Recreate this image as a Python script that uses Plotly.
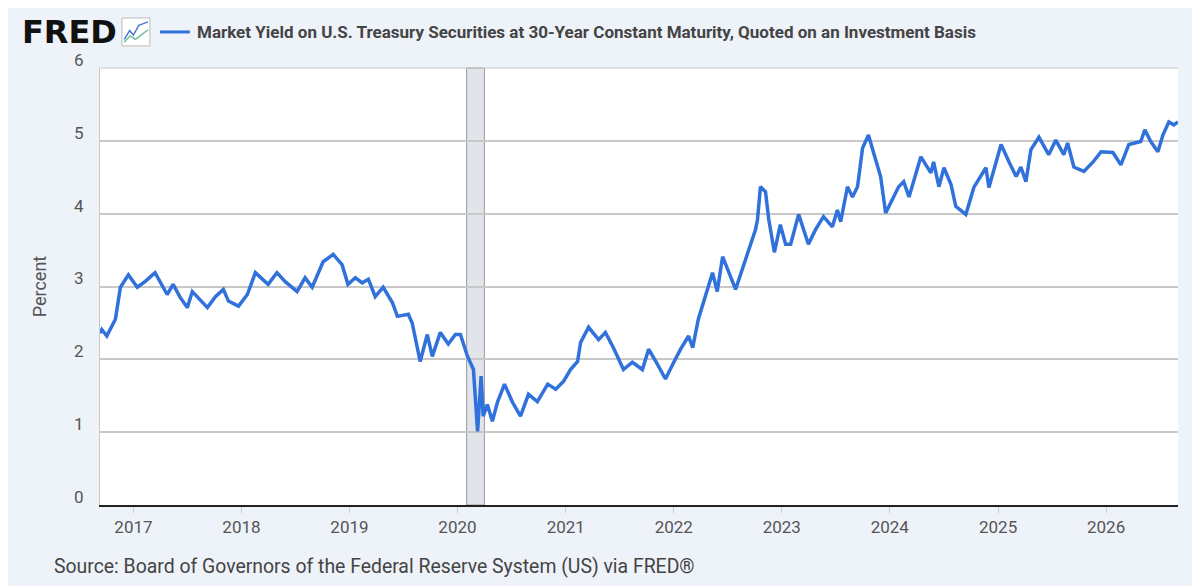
import plotly.graph_objects as go

dates = ["2016-09-10","2016-09-16","2016-10-03","2016-11-01","2016-11-18","2016-12-15","2017-01-14","2017-02-10","2017-03-15",
"2017-04-25","2017-05-15","2017-06-08","2017-07-02","2017-07-19","2017-09-08","2017-10-05","2017-11-01","2017-11-18",
"2017-12-22","2018-01-21","2018-02-17","2018-04-01","2018-05-01","2018-05-28","2018-07-08","2018-08-04","2018-08-28",
"2018-10-04","2018-11-07","2018-12-07","2018-12-27","2019-01-21","2019-02-13","2019-03-06","2019-03-29","2019-04-25",
"2019-05-26","2019-06-12","2019-07-19","2019-08-01","2019-08-28","2019-09-21","2019-10-08","2019-11-04","2019-12-01",
"2019-12-25","2020-01-11","2020-02-04","2020-02-24","2020-03-09","2020-03-21","2020-03-28","2020-04-11","2020-04-28",
"2020-05-15","2020-06-08","2020-07-05","2020-08-01","2020-08-28","2020-09-27","2020-11-01","2020-11-28","2020-12-25",
"2021-01-17","2021-02-10","2021-02-20","2021-03-19","2021-04-22","2021-05-15","2021-06-11","2021-07-15","2021-08-14",
"2021-09-17","2021-10-08","2021-11-07","2021-12-04","2022-01-01","2022-01-24","2022-02-20","2022-03-06","2022-03-25",
"2022-04-25","2022-05-12","2022-05-28","2022-06-15","2022-07-29","2022-09-01","2022-09-11","2022-10-04","2022-10-11",
"2022-10-21","2022-11-07","2022-11-18","2022-12-07","2022-12-27","2023-01-14","2023-01-31","2023-02-27","2023-04-01",
"2023-04-25","2023-05-22","2023-06-21","2023-07-08","2023-07-19","2023-08-11","2023-08-28","2023-09-14","2023-10-01",
"2023-10-21","2023-11-07","2023-12-01","2023-12-18","2024-01-04","2024-01-31","2024-02-17","2024-03-06","2024-04-15",
"2024-05-19","2024-05-28","2024-06-15","2024-07-02","2024-07-26","2024-08-11","2024-09-14","2024-10-11","2024-11-21",
"2024-12-01","2025-01-11","2025-02-07","2025-03-03","2025-03-19","2025-04-05","2025-04-22","2025-05-19","2025-06-21",
"2025-07-15","2025-08-11","2025-08-24","2025-09-14","2025-10-18","2025-11-18","2025-12-15","2026-01-24","2026-02-20",
"2026-03-19","2026-04-28","2026-05-12","2026-06-01","2026-06-25","2026-07-12","2026-08-01","2026-08-18","2026-09-01"]
values = [2.36,2.41,2.32,2.55,2.99,3.16,2.99,3.07,3.19,
2.89,3.03,2.85,2.71,2.93,2.71,2.86,2.96,2.80,
2.73,2.89,3.19,3.03,3.19,3.07,2.93,3.12,2.99,
3.34,3.44,3.30,3.03,3.12,3.05,3.10,2.86,2.99,
2.78,2.59,2.62,2.50,1.97,2.34,2.04,2.37,2.21,
2.34,2.34,2.04,1.86,1.01,1.77,1.22,1.38,1.15,
1.41,1.66,1.41,1.22,1.52,1.42,1.66,1.59,1.70,
1.86,1.97,2.23,2.44,2.27,2.37,2.16,1.86,1.96,
1.86,2.14,1.93,1.73,1.96,2.14,2.32,2.16,2.55,
2.96,3.19,2.93,3.41,2.96,3.37,3.48,3.78,3.92,
4.37,4.30,3.92,3.47,3.85,3.58,3.58,3.99,3.58,
3.78,3.96,3.82,4.05,3.89,4.37,4.23,4.37,4.90,
5.08,4.84,4.51,4.01,4.16,4.37,4.44,4.23,4.78,
4.56,4.71,4.37,4.63,4.40,4.10,3.99,4.36,4.63,
4.36,4.95,4.71,4.51,4.64,4.44,4.88,5.05,4.81,
5.01,4.81,4.97,4.64,4.58,4.71,4.85,4.84,4.67,
4.95,4.99,5.15,4.99,4.85,5.08,5.26,5.22,5.26]

year_ticks = ["2017-01-01","2018-01-01","2019-01-01","2020-01-01","2021-01-01","2022-01-01",
              "2023-01-01","2024-01-01","2025-01-01","2026-01-01"]
year_labels = ["2017","2018","2019","2020","2021","2022","2023","2024","2025","2026"]
y_ticks = [0, 1, 2, 3, 4, 5, 6]
recession = ("2020-02-01", "2020-04-01")

fig = go.Figure(go.Scatter(x=dates, y=values, mode="lines",
                           line=dict(color="#3071db", width=3.5), hoverinfo="skip"))

TY = 1.0825
fig.update_layout(
    width=1200, height=586,
    margin=dict(l=92, r=30, t=60, b=89, autoexpand=False),
    paper_bgcolor="#eef2f9", plot_bgcolor="white",
    showlegend=False,
    font=dict(family="Roboto, Arial, sans-serif", color="#555"),
    xaxis=dict(range=["2016-09-10", "2026-09-01"], tickvals=year_ticks, ticktext=year_labels,
               showgrid=False, ticks="outside", ticklen=6, tickcolor="#ccc", automargin=False,
               tickfont=dict(size=17, color="#555"),
               showline=True, linecolor="#222", linewidth=2),
    yaxis=dict(range=[0, 6], tickvals=y_ticks, showgrid=True, gridcolor="#c8c8c8", gridwidth=2,
               zeroline=False, tickfont=dict(size=17, color="#555"), ticklabelshift=-8, automargin=False,
               ticklabelstandoff=12,
               title=dict(text="Percent", font=dict(size=18, color="#555"), standoff=22),
               showline=True, linecolor="#c8c8c8", linewidth=1),
    shapes=[
        dict(type="rect", xref="x", yref="paper", x0=recession[0], x1=recession[1], y0=0, y1=1,
             fillcolor="#e1e4ea", line=dict(color="#999", width=1), layer="below"),
        dict(type="line", xref="paper", yref="paper", x0=0, x1=1, y0=1, y1=1,
             line=dict(color="#c8c8c8", width=1)),
        dict(type="rect", xref="paper", yref="paper", x0=0.0204, x1=0.0463, y0=TY-0.032, y1=TY+0.032,
             fillcolor="white", line=dict(color="#bbb", width=1)),
        dict(type="path", xref="paper", yref="paper",
             path=f"M 0.0225 {TY-0.017} L 0.0275 {TY+0.003} L 0.031 {TY-0.007} L 0.036 {TY+0.015} L 0.0445 {TY+0.023}",
             line=dict(color="#4a7ad0", width=1.5)),
        dict(type="path", xref="paper", yref="paper",
             path=f"M 0.0225 {TY-0.023} L 0.028 {TY-0.009} L 0.033 {TY-0.017} L 0.0445 {TY+0.005}",
             line=dict(color="#6cbf9a", width=1.5)),
        dict(type="line", xref="paper", yref="paper", x0=0.0556, x1=0.0834, y0=TY, y1=TY,
             line=dict(color="#3071db", width=3)),
    ],
    annotations=[
        dict(text="<b>FRED</b>", xref="paper", yref="paper", x=-0.0741, y=TY, xanchor="left",
             yanchor="middle", showarrow=False, font=dict(family="DejaVu Sans", size=32, color="#111")),
        dict(text="<b>Market Yield on U.S. Treasury Securities at 30-Year Constant Maturity, Quoted on an Investment Basis</b>",
             xref="paper", yref="paper", x=0.0880, y=TY, xanchor="left", yanchor="middle", showarrow=False,
             font=dict(family="Roboto, Arial", size=17, color="#444")),
        dict(text="Source: Board of Governors of the Federal Reserve System (US) via FRED®",
             xref="paper", yref="paper", x=-0.0445, y=-0.140, xanchor="left", yanchor="middle", showarrow=False,
             font=dict(family="Roboto, Arial", size=19.4, color="#444")),
    ],
)

fig.write_html("out.html")
